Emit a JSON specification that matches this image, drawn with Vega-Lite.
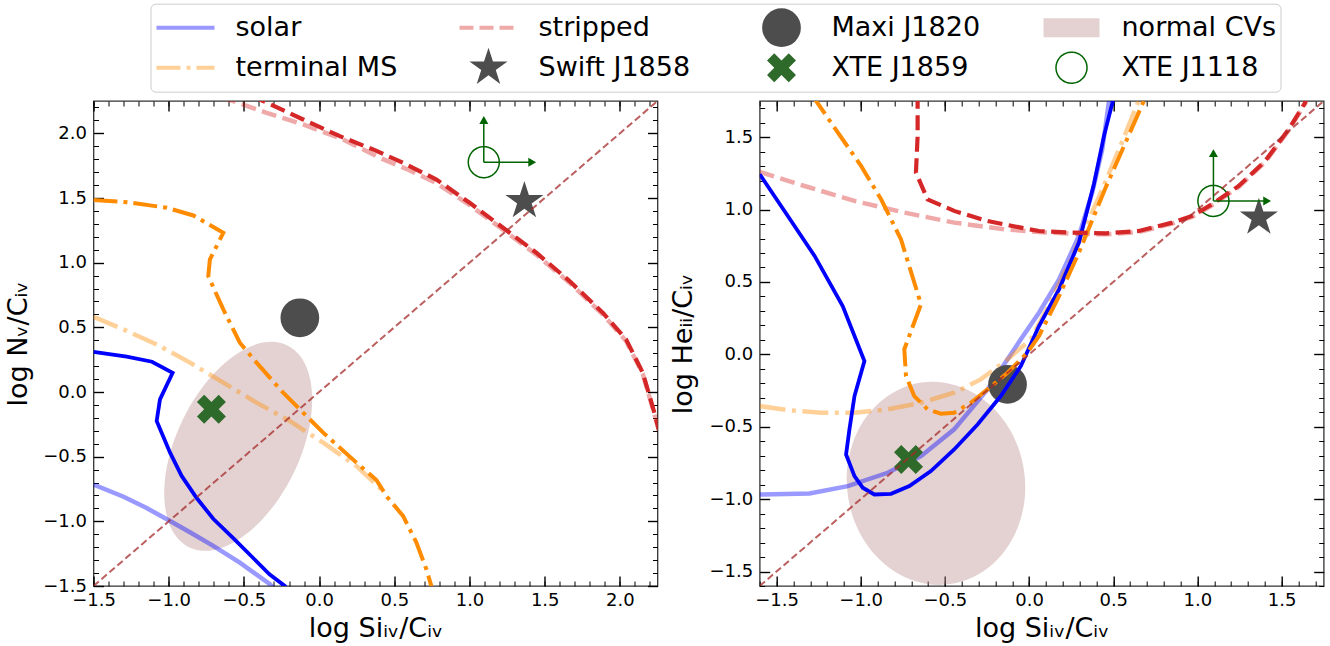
{
"$schema": "https://vega.github.io/schema/vega-lite/v6.json",
"background": "white",
"padding": {"left": 3.5, "top": 3, "right": 5, "bottom": 5},
"spacing": 9.2,
"config": {
  "font": "DejaVu Sans",
  "view": {"stroke": "#333333", "strokeWidth": 1.3},
  "axis": {"domain": false, "grid": false, "tickColor": "black", "labelColor": "black", "titleColor": "black", "labelFont": "DejaVu Sans", "titleFont": "DejaVu Sans", "labelFontSize": 18, "titleFontSize": 27, "titleFontWeight": "normal", "labelFlush": false, "labelOverlap": false, "labelBound": false, "tickWidth": 1.4}
},
"datasets": {
  "Llines": [
    {"c":"solarD","x":-1.5,"y":0.31},{"c":"solarD","x":-1.279,"y":0.273},{"c":"solarD","x":-1.111,"y":0.234},{"c":"solarD","x":-0.974,"y":0.149},{"c":"solarD","x":-1.058,"y":-0.057},{"c":"solarD","x":-1.08,"y":-0.224},{"c":"solarD","x":-0.991,"y":-0.469},{"c":"solarD","x":-0.914,"y":-0.649},{"c":"solarD","x":-0.814,"y":-0.82},{"c":"solarD","x":-0.704,"y":-0.98},{"c":"solarD","x":-0.571,"y":-1.13},{"c":"solarD","x":-0.45,"y":-1.27},{"c":"solarD","x":-0.33,"y":-1.41},{"c":"solarD","x":-0.228,"y":-1.5},{"c":"solarD","x":-0.19,"y":-1.55},
    {"c":"solarL","x":-1.5,"y":-0.715},{"c":"solarL","x":-1.3,"y":-0.81},{"c":"solarL","x":-1.15,"y":-0.895},{"c":"solarL","x":-0.991,"y":-0.997},{"c":"solarL","x":-0.85,"y":-1.09},{"c":"solarL","x":-0.704,"y":-1.19},{"c":"solarL","x":-0.527,"y":-1.32},{"c":"solarL","x":-0.327,"y":-1.486},{"c":"solarL","x":-0.3,"y":-1.52},
    {"c":"tmsD","x":-1.5,"y":1.484},{"c":"tmsD","x":-1.279,"y":1.468},{"c":"tmsD","x":-1.013,"y":1.425},{"c":"tmsD","x":-0.836,"y":1.365},{"c":"tmsD","x":-0.637,"y":1.231},{"c":"tmsD","x":-0.726,"y":1.025},{"c":"tmsD","x":-0.737,"y":0.896},{"c":"tmsD","x":-0.637,"y":0.639},{"c":"tmsD","x":-0.527,"y":0.381},{"c":"tmsD","x":-0.416,"y":0.227},{"c":"tmsD","x":-0.239,"y":-0.005},{"c":"tmsD","x":-0.106,"y":-0.16},{"c":"tmsD","x":0.027,"y":-0.314},{"c":"tmsD","x":0.248,"y":-0.546},{"c":"tmsD","x":0.381,"y":-0.68},{"c":"tmsD","x":0.447,"y":-0.804},{"c":"tmsD","x":0.558,"y":-0.958},{"c":"tmsD","x":0.647,"y":-1.164},{"c":"tmsD","x":0.713,"y":-1.37},{"c":"tmsD","x":0.746,"y":-1.499},{"c":"tmsD","x":0.76,"y":-1.55},
    {"c":"tmsL","x":-1.5,"y":0.582},{"c":"tmsL","x":-1.301,"y":0.484},{"c":"tmsL","x":-1.08,"y":0.368},{"c":"tmsL","x":-0.858,"y":0.227},{"c":"tmsL","x":-0.637,"y":0.072},{"c":"tmsL","x":-0.416,"y":-0.082},{"c":"tmsL","x":-0.195,"y":-0.224},{"c":"tmsL","x":0.027,"y":-0.392},{"c":"tmsL","x":0.248,"y":-0.572},{"c":"tmsL","x":0.41,"y":-0.75},
    {"c":"strD","x":-0.45,"y":2.29},{"c":"strD","x":-0.371,"y":2.249},{"c":"strD","x":-0.106,"y":2.107},{"c":"strD","x":0.138,"y":1.978},{"c":"strD","x":0.37,"y":1.87},{"c":"strD","x":0.558,"y":1.772},{"c":"strD","x":0.78,"y":1.643},{"c":"strD","x":1.001,"y":1.463},{"c":"strD","x":1.223,"y":1.27},{"c":"strD","x":1.444,"y":1.077},{"c":"strD","x":1.665,"y":0.858},{"c":"strD","x":1.886,"y":0.613},{"c":"strD","x":2.041,"y":0.407},{"c":"strD","x":2.152,"y":0.149},{"c":"strD","x":2.229,"y":-0.16},{"c":"strD","x":2.26,"y":-0.3},
    {"c":"strL","x":-0.65,"y":2.28},{"c":"strL","x":-0.571,"y":2.249},{"c":"strL","x":-0.349,"y":2.159},{"c":"strL","x":-0.106,"y":2.069},{"c":"strL","x":0.159,"y":1.953},{"c":"strL","x":0.403,"y":1.811},{"c":"strL","x":0.6,"y":1.715},{"c":"strL","x":0.78,"y":1.615},{"c":"strL","x":1.001,"y":1.445},{"c":"strL","x":1.223,"y":1.255},{"c":"strL","x":1.444,"y":1.062},{"c":"strL","x":1.665,"y":0.845},{"c":"strL","x":1.886,"y":0.6},{"c":"strL","x":2.041,"y":0.395},{"c":"strL","x":2.152,"y":0.14},{"c":"strL","x":2.229,"y":-0.17},{"c":"strL","x":2.26,"y":-0.3},
    {"c":"diag","x":-1.5,"y":-1.5},{"c":"diag","x":2.25,"y":2.25}
  ],
  "Rlines": [
    {"c":"solarD","x":-1.6,"y":1.244},{"c":"solarD","x":-1.433,"y":0.956},{"c":"solarD","x":-1.274,"y":0.68},{"c":"solarD","x":-1.107,"y":0.334},{"c":"solarD","x":-0.978,"y":-0.046},{"c":"solarD","x":-1.037,"y":-0.288},{"c":"solarD","x":-1.067,"y":-0.518},{"c":"solarD","x":-1.087,"y":-0.691},{"c":"solarD","x":-1.037,"y":-0.841},{"c":"solarD","x":-0.988,"y":-0.921},{"c":"solarD","x":-0.919,"y":-0.968},{"c":"solarD","x":-0.82,"y":-0.963},{"c":"solarD","x":-0.711,"y":-0.91},{"c":"solarD","x":-0.583,"y":-0.806},{"c":"solarD","x":-0.445,"y":-0.657},{"c":"solarD","x":-0.306,"y":-0.484},{"c":"solarD","x":-0.168,"y":-0.288},{"c":"solarD","x":-0.049,"y":-0.081},{"c":"solarD","x":0.059,"y":0.196},{"c":"solarD","x":0.178,"y":0.449},{"c":"solarD","x":0.296,"y":0.772},{"c":"solarD","x":0.385,"y":1.175},{"c":"solarD","x":0.445,"y":1.509},{"c":"solarD","x":0.498,"y":1.751},{"c":"solarD","x":0.51,"y":1.8},
    {"c":"solarL","x":-1.6,"y":-0.968},{"c":"solarL","x":-1.304,"y":-0.961},{"c":"solarL","x":-1.077,"y":-0.91},{"c":"solarL","x":-0.84,"y":-0.818},{"c":"solarL","x":-0.642,"y":-0.703},{"c":"solarL","x":-0.445,"y":-0.518},{"c":"solarL","x":-0.247,"y":-0.242},{"c":"solarL","x":-0.049,"y":0.104},{"c":"solarL","x":0.059,"y":0.288},{"c":"solarL","x":0.178,"y":0.518},{"c":"solarL","x":0.296,"y":0.818},{"c":"solarL","x":0.375,"y":1.117},{"c":"solarL","x":0.435,"y":1.417},{"c":"solarL","x":0.475,"y":1.75},{"c":"solarL","x":0.48,"y":1.8},
    {"c":"tmsD","x":-1.29,"y":1.8},{"c":"tmsD","x":-1.265,"y":1.751},{"c":"tmsD","x":-1.156,"y":1.566},{"c":"tmsD","x":-0.998,"y":1.302},{"c":"tmsD","x":-0.879,"y":1.071},{"c":"tmsD","x":-0.761,"y":0.795},{"c":"tmsD","x":-0.642,"y":0.346},{"c":"tmsD","x":-0.741,"y":0.035},{"c":"tmsD","x":-0.731,"y":-0.15},{"c":"tmsD","x":-0.682,"y":-0.288},{"c":"tmsD","x":-0.603,"y":-0.38},{"c":"tmsD","x":-0.524,"y":-0.41},{"c":"tmsD","x":-0.445,"y":-0.403},{"c":"tmsD","x":-0.346,"y":-0.334},{"c":"tmsD","x":-0.247,"y":-0.242},{"c":"tmsD","x":-0.128,"y":-0.127},{"c":"tmsD","x":-0.01,"y":0.012},{"c":"tmsD","x":0.059,"y":0.127},{"c":"tmsD","x":0.178,"y":0.403},{"c":"tmsD","x":0.296,"y":0.703},{"c":"tmsD","x":0.455,"y":1.152},{"c":"tmsD","x":0.573,"y":1.463},{"c":"tmsD","x":0.682,"y":1.751},{"c":"tmsD","x":0.7,"y":1.8},
    {"c":"tmsL","x":-1.6,"y":-0.357},{"c":"tmsL","x":-1.433,"y":-0.385},{"c":"tmsL","x":-1.235,"y":-0.403},{"c":"tmsL","x":-1.037,"y":-0.403},{"c":"tmsL","x":-0.84,"y":-0.38},{"c":"tmsL","x":-0.642,"y":-0.334},{"c":"tmsL","x":-0.445,"y":-0.265},{"c":"tmsL","x":-0.287,"y":-0.173},{"c":"tmsL","x":-0.128,"y":-0.035},{"c":"tmsL","x":0.01,"y":0.104},{"c":"tmsL","x":0.1,"y":0.3},{"c":"tmsL","x":0.25,"y":0.66},{"c":"tmsL","x":0.42,"y":1.1},{"c":"tmsL","x":0.55,"y":1.46},{"c":"tmsL","x":0.65,"y":1.75},{"c":"tmsL","x":0.67,"y":1.8},
    {"c":"strD","x":-0.66,"y":1.8},{"c":"strD","x":-0.662,"y":1.751},{"c":"strD","x":-0.662,"y":1.509},{"c":"strD","x":-0.672,"y":1.255},{"c":"strD","x":-0.603,"y":1.071},{"c":"strD","x":-0.445,"y":0.991},{"c":"strD","x":-0.247,"y":0.921},{"c":"strD","x":-0.049,"y":0.875},{"c":"strD","x":0.059,"y":0.852},{"c":"strD","x":0.257,"y":0.841},{"c":"strD","x":0.455,"y":0.836},{"c":"strD","x":0.652,"y":0.852},{"c":"strD","x":0.85,"y":0.91},{"c":"strD","x":0.968,"y":0.956},{"c":"strD","x":1.087,"y":1.037},{"c":"strD","x":1.245,"y":1.163},{"c":"strD","x":1.403,"y":1.336},{"c":"strD","x":1.542,"y":1.555},{"c":"strD","x":1.64,"y":1.739},{"c":"strD","x":1.65,"y":1.8},
    {"c":"strL","x":-1.6,"y":1.26},{"c":"strL","x":-1.334,"y":1.163},{"c":"strL","x":-1.037,"y":1.06},{"c":"strL","x":-0.741,"y":0.979},{"c":"strL","x":-0.445,"y":0.91},{"c":"strL","x":-0.148,"y":0.864},{"c":"strL","x":0.059,"y":0.845},{"c":"strL","x":0.257,"y":0.834},{"c":"strL","x":0.455,"y":0.829},{"c":"strL","x":0.652,"y":0.845},{"c":"strL","x":0.85,"y":0.903},{"c":"strL","x":0.968,"y":0.949},{"c":"strL","x":1.087,"y":1.03},{"c":"strL","x":1.245,"y":1.156},{"c":"strL","x":1.403,"y":1.329},{"c":"strL","x":1.542,"y":1.548},{"c":"strL","x":1.64,"y":1.732},{"c":"strL","x":1.65,"y":1.8},
    {"c":"diag","x":-1.6,"y":-1.6},{"c":"diag","x":1.75,"y":1.75}
  ],
  "Lell": [
    {"x":-0.211,"y":0.36},{"x":-0.127,"y":0.28},{"x":-0.071,"y":0.151},{"x":-0.047,"y":-0.016},{"x":-0.056,"y":-0.211},{"x":-0.098,"y":-0.42},{"x":-0.17,"y":-0.629},{"x":-0.267,"y":-0.823},{"x":-0.383,"y":-0.991},{"x":-0.509,"y":-1.119},{"x":-0.637,"y":-1.2},{"x":-0.758,"y":-1.228},{"x":-0.865,"y":-1.2},{"x":-0.949,"y":-1.12},{"x":-1.005,"y":-0.991},{"x":-1.029,"y":-0.824},{"x":-1.02,"y":-0.63},{"x":-0.978,"y":-0.421},{"x":-0.906,"y":-0.212},{"x":-0.809,"y":-0.017},{"x":-0.693,"y":0.151},{"x":-0.567,"y":0.279},{"x":-0.439,"y":0.36},{"x":-0.318,"y":0.388}
  ],
  "Rell": [
    {"x":-0.639,"y":-0.195},{"x":-0.501,"y":-0.196},{"x":-0.366,"y":-0.245},{"x":-0.244,"y":-0.337},{"x":-0.143,"y":-0.467},{"x":-0.07,"y":-0.626},{"x":-0.03,"y":-0.803},{"x":-0.025,"y":-0.986},{"x":-0.057,"y":-1.163},{"x":-0.122,"y":-1.321},{"x":-0.217,"y":-1.45},{"x":-0.334,"y":-1.54},{"x":-0.467,"y":-1.587},{"x":-0.605,"y":-1.586},{"x":-0.74,"y":-1.538},{"x":-0.862,"y":-1.445},{"x":-0.963,"y":-1.315},{"x":-1.036,"y":-1.156},{"x":-1.076,"y":-0.979},{"x":-1.081,"y":-0.796},{"x":-1.049,"y":-0.619},{"x":-0.984,"y":-0.461},{"x":-0.889,"y":-0.333},{"x":-0.772,"y":-0.242}
  ],
  "Lpts": [
    {"name":"Maxi J1820","x":-0.128,"y":0.574},{"name":"XTE J1859","x":-0.716,"y":-0.134},{"name":"Swift J1858","x":1.365,"y":1.476},{"name":"XTE J1118","x":1.095,"y":1.777}
  ],
  "Rpts": [
    {"name":"Maxi J1820","x":-0.128,"y":-0.207},{"name":"XTE J1859","x":-0.716,"y":-0.726},{"name":"Swift J1858","x":1.365,"y":0.944},{"name":"XTE J1118","x":1.095,"y":1.06}
  ],
  "Larrows": [
    {"x":1.095,"y":1.777,"x2":1.095,"y2":2.105},{"x":1.095,"y":1.777,"x2":1.42,"y2":1.777}
  ],
  "Rarrows": [
    {"x":1.095,"y":1.06,"x2":1.095,"y2":1.392},{"x":1.095,"y":1.06,"x2":1.416,"y2":1.06}
  ],
  "Lheads": [
    {"d":"up","x":1.095,"y":2.103},{"d":"right","x":1.417,"y":1.777}
  ],
  "Rheads": [
    {"d":"up","x":1.095,"y":1.39},{"d":"right","x":1.414,"y":1.06}
  ]
},
"hconcat": [
{
  "width": 564, "height": 485,
  "resolve": {"axis": {"x": "independent", "y": "independent"}},
  "encoding": {
    "x": {"field": "x", "type": "quantitative", "scale": {"domain": [-1.5, 2.25], "nice": false, "zero": false}, "axis": null},
    "y": {"field": "y", "type": "quantitative", "scale": {"domain": [-1.5, 2.25], "nice": false, "zero": false}, "axis": null}
  },
  "layer": [
    {"data": {"name": "Lell"}, "mark": {"type": "line", "fill": "#bc8f8f", "fillOpacity": 0.4, "strokeWidth": 0, "interpolate": "cardinal-closed"},
     "encoding": {"order": {"value": null},
       "x": {"field": "x", "type": "quantitative", "scale": {"domain": [-1.5, 2.25], "nice": false, "zero": false}, "axis": {"orient": "bottom", "values": [-1.5,-1,-0.5,0,0.5,1,1.5,2], "format": ".1f", "title": "log Siᵢᵥ/Cᵢᵥ", "tickSize": -10, "labelPadding": 15, "titlePadding": 6}},
       "y": {"field": "y", "type": "quantitative", "scale": {"domain": [-1.5, 2.25], "nice": false, "zero": false}, "axis": {"orient": "left", "values": [-1.5,-1,-0.5,0,0.5,1,1.5,2], "format": ".1f", "title": "log Nᵥ/Cᵢᵥ", "tickSize": -10, "labelPadding": 17, "titlePadding": 10}}}},
    {"data": {"name": "Llines"}, "transform": [{"filter": "datum.c == 'solarL'"}], "mark": {"type": "line", "stroke": "blue", "strokeOpacity": 0.4, "strokeWidth": 4.5, "clip": true},
     "encoding": {"order": {"value": null},
       "x": {"field": "x", "type": "quantitative", "scale": {"domain": [-1.5, 2.25], "nice": false, "zero": false}, "axis": {"orient": "bottom", "values": [-1.5,-1.4,-1.3,-1.2,-1.1,-1,-0.9,-0.8,-0.7,-0.6,-0.5,-0.4,-0.3,-0.2,-0.1,0,0.1,0.2,0.3,0.4,0.5,0.6,0.7,0.8,0.9,1,1.1,1.2,1.3,1.4,1.5,1.6,1.7,1.8,1.9,2,2.1,2.2], "labels": false, "title": null, "tickSize": -5, "tickWidth": 1}},
       "y": {"field": "y", "type": "quantitative", "scale": {"domain": [-1.5, 2.25], "nice": false, "zero": false}, "axis": {"orient": "left", "values": [-1.5,-1.4,-1.3,-1.2,-1.1,-1,-0.9,-0.8,-0.7,-0.6,-0.5,-0.4,-0.3,-0.2,-0.1,0,0.1,0.2,0.3,0.4,0.5,0.6,0.7,0.8,0.9,1,1.1,1.2,1.3,1.4,1.5,1.6,1.7,1.8,1.9,2,2.1,2.2], "labels": false, "title": null, "tickSize": -5, "tickWidth": 1}}}},
    {"data": {"name": "Llines"}, "transform": [{"filter": "datum.c == 'tmsL'"}], "mark": {"type": "line", "stroke": "#ff8c00", "strokeOpacity": 0.4, "strokeWidth": 4.5, "strokeDash": [26, 6.5, 4, 6.5], "clip": true},
     "encoding": {"order": {"value": null},
       "x": {"field": "x", "type": "quantitative", "scale": {"domain": [-1.5, 2.25], "nice": false, "zero": false}, "axis": {"orient": "top", "values": [-1.5,-1,-0.5,0,0.5,1,1.5,2], "labels": false, "title": null, "tickSize": -10}},
       "y": {"field": "y", "type": "quantitative", "scale": {"domain": [-1.5, 2.25], "nice": false, "zero": false}, "axis": {"orient": "right", "values": [-1.5,-1,-0.5,0,0.5,1,1.5,2], "labels": false, "title": null, "tickSize": -10}}}},
    {"data": {"name": "Llines"}, "transform": [{"filter": "datum.c == 'strL'"}], "mark": {"type": "line", "stroke": "#d62728", "strokeOpacity": 0.4, "strokeWidth": 4.5, "strokeDash": [15, 6.5], "clip": true},
     "encoding": {"order": {"value": null},
       "x": {"field": "x", "type": "quantitative", "scale": {"domain": [-1.5, 2.25], "nice": false, "zero": false}, "axis": {"orient": "top", "values": [-1.5,-1.4,-1.3,-1.2,-1.1,-1,-0.9,-0.8,-0.7,-0.6,-0.5,-0.4,-0.3,-0.2,-0.1,0,0.1,0.2,0.3,0.4,0.5,0.6,0.7,0.8,0.9,1,1.1,1.2,1.3,1.4,1.5,1.6,1.7,1.8,1.9,2,2.1,2.2], "labels": false, "title": null, "tickSize": -5, "tickWidth": 1}},
       "y": {"field": "y", "type": "quantitative", "scale": {"domain": [-1.5, 2.25], "nice": false, "zero": false}, "axis": {"orient": "right", "values": [-1.5,-1.4,-1.3,-1.2,-1.1,-1,-0.9,-0.8,-0.7,-0.6,-0.5,-0.4,-0.3,-0.2,-0.1,0,0.1,0.2,0.3,0.4,0.5,0.6,0.7,0.8,0.9,1,1.1,1.2,1.3,1.4,1.5,1.6,1.7,1.8,1.9,2,2.1,2.2], "labels": false, "title": null, "tickSize": -5, "tickWidth": 1}}}},
    {"data": {"name": "Lpts"}, "mark": {"type": "point", "opacity": 1},
     "encoding": {
       "fill": {"field": "name", "type": "nominal", "scale": {"domain": ["solar","terminal MS","stripped","Swift J1858","Maxi J1820","XTE J1859","normal CVs","XTE J1118"], "range": ["transparent","transparent","transparent","#4d4d4d","#4d4d4d","#2e6b2a","#e4d2d2","transparent"]},
         "legend": {"title": null, "orient": "none", "legendX": 57, "legendY": -97.3, "columns": 4, "labelFontSize": 27, "labelFont": "DejaVu Sans", "labelColor": "black", "labelOffset": 19, "symbolOffset": 0, "clipHeight": 40, "rowPadding": 0, "columnPadding": 60, "padding": 4, "fillColor": "white", "strokeColor": "#cccccc", "cornerRadius": 5, "labelLimit": 400}},
       "stroke": {"field": "name", "type": "nominal", "scale": {"domain": ["solar","terminal MS","stripped","Swift J1858","Maxi J1820","XTE J1859","normal CVs","XTE J1118"], "range": ["#9999ff","#ffd199","#efa9a9","#4d4d4d","#4d4d4d","#2e6b2a","#e4d2d2","#006400"]}, "legend": {"title": null}},
       "shape": {"field": "name", "type": "nominal", "scale": {"domain": ["solar","terminal MS","stripped","Swift J1858","Maxi J1820","XTE J1859","normal CVs","XTE J1118"], "range": ["stroke","stroke","stroke","M0,-1L0.2245,-0.309L0.9511,-0.309L0.3633,0.118L0.5878,0.809L0,0.382L-0.5878,0.809L-0.3633,0.118L-0.9511,-0.309L-0.2245,-0.309Z","circle","M0,-0.5L0.5,-1L1,-0.5L0.5,0L1,0.5L0.5,1L0,0.5L-0.5,1L-1,0.5L-0.5,0L-1,-0.5L-0.5,-1Z","M-1,-0.34L1,-0.34L1,0.34L-1,0.34Z","circle"]}, "legend": {"title": null}},
       "size": {"field": "name", "type": "nominal", "scale": {"type": "ordinal", "domain": ["solar","terminal MS","stripped","Swift J1858","Maxi J1820","XTE J1859","normal CVs","XTE J1118"], "range": [3364,3364,3364,1600,1500,841,3136,961]}, "legend": {"title": null}},
       "strokeWidth": {"field": "name", "type": "nominal", "scale": {"type": "ordinal", "domain": ["solar","terminal MS","stripped","Swift J1858","Maxi J1820","XTE J1859","normal CVs","XTE J1118"], "range": [4,4,4,0,0,0,0,1.5]}, "legend": {"title": null}},
       "strokeDash": {"field": "name", "type": "nominal", "scale": {"domain": ["solar","terminal MS","stripped","Swift J1858","Maxi J1820","XTE J1859","normal CVs","XTE J1118"], "range": [[1,0],[24,6,4,6],[14,6],[1,0],[1,0],[1,0],[1,0],[1,0]]}, "legend": {"title": null}}
     }},
    {"data": {"name": "Llines"}, "transform": [{"filter": "datum.c == 'solarD'"}], "mark": {"type": "line", "stroke": "blue", "strokeWidth": 3.8, "clip": true}, "encoding": {"order": {"value": null}}},
    {"data": {"name": "Llines"}, "transform": [{"filter": "datum.c == 'tmsD'"}], "mark": {"type": "line", "stroke": "#ff8c00", "strokeWidth": 4, "strokeDash": [24, 6, 4, 6], "clip": true}, "encoding": {"order": {"value": null}}},
    {"data": {"name": "Llines"}, "transform": [{"filter": "datum.c == 'strD'"}], "mark": {"type": "line", "stroke": "#d62728", "strokeWidth": 4.2, "strokeDash": [15, 6.5], "clip": true}, "encoding": {"order": {"value": null}}},
    {"data": {"name": "Llines"}, "transform": [{"filter": "datum.c == 'diag'"}], "mark": {"type": "line", "stroke": "#a52a2a", "strokeOpacity": 0.75, "strokeWidth": 2, "strokeDash": [7, 3.5], "clip": true}, "encoding": {"order": {"value": null}}},
    {"data": {"name": "Larrows"}, "mark": {"type": "rule", "stroke": "darkgreen", "strokeWidth": 1.5}, "encoding": {"x2": {"field": "x2"}, "y2": {"field": "y2"}}},
    {"data": {"name": "Lheads"}, "transform": [{"filter": "datum.d == 'up'"}], "mark": {"type": "point", "shape": "triangle-up", "filled": true, "fill": "darkgreen", "strokeWidth": 0, "size": 81, "opacity": 1}, "encoding": {}},
    {"data": {"name": "Lheads"}, "transform": [{"filter": "datum.d == 'right'"}], "mark": {"type": "point", "shape": "triangle-right", "filled": true, "fill": "darkgreen", "strokeWidth": 0, "size": 81, "opacity": 1}, "encoding": {}}
  ]
},
{
  "width": 564, "height": 485,
  "resolve": {"axis": {"x": "independent", "y": "independent"}},
  "encoding": {
    "x": {"field": "x", "type": "quantitative", "scale": {"domain": [-1.6, 1.75], "nice": false, "zero": false}, "axis": null},
    "y": {"field": "y", "type": "quantitative", "scale": {"domain": [-1.6, 1.75], "nice": false, "zero": false}, "axis": null}
  },
  "layer": [
    {"data": {"name": "Rell"}, "mark": {"type": "line", "fill": "#bc8f8f", "fillOpacity": 0.4, "strokeWidth": 0, "interpolate": "cardinal-closed"},
     "encoding": {"order": {"value": null},
       "x": {"field": "x", "type": "quantitative", "scale": {"domain": [-1.6, 1.75], "nice": false, "zero": false}, "axis": {"orient": "bottom", "values": [-1.5,-1,-0.5,0,0.5,1,1.5], "format": ".1f", "title": "log Siᵢᵥ/Cᵢᵥ", "tickSize": -10, "labelPadding": 15, "titlePadding": 6}},
       "y": {"field": "y", "type": "quantitative", "scale": {"domain": [-1.6, 1.75], "nice": false, "zero": false}, "axis": {"orient": "left", "values": [-1.5,-1,-0.5,0,0.5,1,1.5], "format": ".1f", "title": "log Heᵢᵢ/Cᵢᵥ", "tickSize": -10, "labelPadding": 17, "titlePadding": 11}}}},
    {"data": {"name": "Rlines"}, "transform": [{"filter": "datum.c == 'solarL'"}], "mark": {"type": "line", "stroke": "blue", "strokeOpacity": 0.4, "strokeWidth": 4.5, "clip": true},
     "encoding": {"order": {"value": null},
       "x": {"field": "x", "type": "quantitative", "scale": {"domain": [-1.6, 1.75], "nice": false, "zero": false}, "axis": {"orient": "bottom", "values": [-1.6,-1.5,-1.4,-1.3,-1.2,-1.1,-1,-0.9,-0.8,-0.7,-0.6,-0.5,-0.4,-0.3,-0.2,-0.1,0,0.1,0.2,0.3,0.4,0.5,0.6,0.7,0.8,0.9,1,1.1,1.2,1.3,1.4,1.5,1.6,1.7], "labels": false, "title": null, "tickSize": -5, "tickWidth": 1}},
       "y": {"field": "y", "type": "quantitative", "scale": {"domain": [-1.6, 1.75], "nice": false, "zero": false}, "axis": {"orient": "left", "values": [-1.6,-1.5,-1.4,-1.3,-1.2,-1.1,-1,-0.9,-0.8,-0.7,-0.6,-0.5,-0.4,-0.3,-0.2,-0.1,0,0.1,0.2,0.3,0.4,0.5,0.6,0.7,0.8,0.9,1,1.1,1.2,1.3,1.4,1.5,1.6,1.7], "labels": false, "title": null, "tickSize": -5, "tickWidth": 1}}}},
    {"data": {"name": "Rlines"}, "transform": [{"filter": "datum.c == 'tmsL'"}], "mark": {"type": "line", "stroke": "#ff8c00", "strokeOpacity": 0.4, "strokeWidth": 4.5, "strokeDash": [26, 6.5, 4, 6.5], "clip": true},
     "encoding": {"order": {"value": null},
       "x": {"field": "x", "type": "quantitative", "scale": {"domain": [-1.6, 1.75], "nice": false, "zero": false}, "axis": {"orient": "top", "values": [-1.5,-1,-0.5,0,0.5,1,1.5], "labels": false, "title": null, "tickSize": -10}},
       "y": {"field": "y", "type": "quantitative", "scale": {"domain": [-1.6, 1.75], "nice": false, "zero": false}, "axis": {"orient": "right", "values": [-1.5,-1,-0.5,0,0.5,1,1.5], "labels": false, "title": null, "tickSize": -10}}}},
    {"data": {"name": "Rlines"}, "transform": [{"filter": "datum.c == 'strL'"}], "mark": {"type": "line", "stroke": "#d62728", "strokeOpacity": 0.4, "strokeWidth": 4.5, "strokeDash": [15, 6.5], "clip": true},
     "encoding": {"order": {"value": null},
       "x": {"field": "x", "type": "quantitative", "scale": {"domain": [-1.6, 1.75], "nice": false, "zero": false}, "axis": {"orient": "top", "values": [-1.6,-1.5,-1.4,-1.3,-1.2,-1.1,-1,-0.9,-0.8,-0.7,-0.6,-0.5,-0.4,-0.3,-0.2,-0.1,0,0.1,0.2,0.3,0.4,0.5,0.6,0.7,0.8,0.9,1,1.1,1.2,1.3,1.4,1.5,1.6,1.7], "labels": false, "title": null, "tickSize": -5, "tickWidth": 1}},
       "y": {"field": "y", "type": "quantitative", "scale": {"domain": [-1.6, 1.75], "nice": false, "zero": false}, "axis": {"orient": "right", "values": [-1.6,-1.5,-1.4,-1.3,-1.2,-1.1,-1,-0.9,-0.8,-0.7,-0.6,-0.5,-0.4,-0.3,-0.2,-0.1,0,0.1,0.2,0.3,0.4,0.5,0.6,0.7,0.8,0.9,1,1.1,1.2,1.3,1.4,1.5,1.6,1.7], "labels": false, "title": null, "tickSize": -5, "tickWidth": 1}}}},
    {"data": {"name": "Rpts"}, "mark": {"type": "point", "opacity": 1},
     "encoding": {
       "fill": {"field": "name", "type": "nominal", "scale": {"domain": ["solar","terminal MS","stripped","Swift J1858","Maxi J1820","XTE J1859","normal CVs","XTE J1118"], "range": ["transparent","transparent","transparent","#4d4d4d","#4d4d4d","#2e6b2a","#e4d2d2","transparent"]},
         "legend": {"title": null, "orient": "none", "legendX": 57, "legendY": -97.3, "columns": 4, "labelFontSize": 27, "labelFont": "DejaVu Sans", "labelColor": "black", "labelOffset": 19, "symbolOffset": 0, "clipHeight": 40, "rowPadding": 0, "columnPadding": 60, "padding": 4, "fillColor": "white", "strokeColor": "#cccccc", "cornerRadius": 5, "labelLimit": 400}},
       "stroke": {"field": "name", "type": "nominal", "scale": {"domain": ["solar","terminal MS","stripped","Swift J1858","Maxi J1820","XTE J1859","normal CVs","XTE J1118"], "range": ["#9999ff","#ffd199","#efa9a9","#4d4d4d","#4d4d4d","#2e6b2a","#e4d2d2","#006400"]}, "legend": {"title": null}},
       "shape": {"field": "name", "type": "nominal", "scale": {"domain": ["solar","terminal MS","stripped","Swift J1858","Maxi J1820","XTE J1859","normal CVs","XTE J1118"], "range": ["stroke","stroke","stroke","M0,-1L0.2245,-0.309L0.9511,-0.309L0.3633,0.118L0.5878,0.809L0,0.382L-0.5878,0.809L-0.3633,0.118L-0.9511,-0.309L-0.2245,-0.309Z","circle","M0,-0.5L0.5,-1L1,-0.5L0.5,0L1,0.5L0.5,1L0,0.5L-0.5,1L-1,0.5L-0.5,0L-1,-0.5L-0.5,-1Z","M-1,-0.34L1,-0.34L1,0.34L-1,0.34Z","circle"]}, "legend": {"title": null}},
       "size": {"field": "name", "type": "nominal", "scale": {"type": "ordinal", "domain": ["solar","terminal MS","stripped","Swift J1858","Maxi J1820","XTE J1859","normal CVs","XTE J1118"], "range": [3364,3364,3364,1600,1500,841,3136,961]}, "legend": {"title": null}},
       "strokeWidth": {"field": "name", "type": "nominal", "scale": {"type": "ordinal", "domain": ["solar","terminal MS","stripped","Swift J1858","Maxi J1820","XTE J1859","normal CVs","XTE J1118"], "range": [4,4,4,0,0,0,0,1.5]}, "legend": {"title": null}},
       "strokeDash": {"field": "name", "type": "nominal", "scale": {"domain": ["solar","terminal MS","stripped","Swift J1858","Maxi J1820","XTE J1859","normal CVs","XTE J1118"], "range": [[1,0],[24,6,4,6],[14,6],[1,0],[1,0],[1,0],[1,0],[1,0]]}, "legend": {"title": null}}
     }},
    {"data": {"name": "Rlines"}, "transform": [{"filter": "datum.c == 'solarD'"}], "mark": {"type": "line", "stroke": "blue", "strokeWidth": 3.8, "clip": true}, "encoding": {"order": {"value": null}}},
    {"data": {"name": "Rlines"}, "transform": [{"filter": "datum.c == 'tmsD'"}], "mark": {"type": "line", "stroke": "#ff8c00", "strokeWidth": 4, "strokeDash": [24, 6, 4, 6], "clip": true}, "encoding": {"order": {"value": null}}},
    {"data": {"name": "Rlines"}, "transform": [{"filter": "datum.c == 'strD'"}], "mark": {"type": "line", "stroke": "#d62728", "strokeWidth": 4.2, "strokeDash": [15, 6.5], "clip": true}, "encoding": {"order": {"value": null}}},
    {"data": {"name": "Rlines"}, "transform": [{"filter": "datum.c == 'diag'"}], "mark": {"type": "line", "stroke": "#a52a2a", "strokeOpacity": 0.75, "strokeWidth": 2, "strokeDash": [7, 3.5], "clip": true}, "encoding": {"order": {"value": null}}},
    {"data": {"name": "Rarrows"}, "mark": {"type": "rule", "stroke": "darkgreen", "strokeWidth": 1.5}, "encoding": {"x2": {"field": "x2"}, "y2": {"field": "y2"}}},
    {"data": {"name": "Rheads"}, "transform": [{"filter": "datum.d == 'up'"}], "mark": {"type": "point", "shape": "triangle-up", "filled": true, "fill": "darkgreen", "strokeWidth": 0, "size": 81, "opacity": 1}, "encoding": {}},
    {"data": {"name": "Rheads"}, "transform": [{"filter": "datum.d == 'right'"}], "mark": {"type": "point", "shape": "triangle-right", "filled": true, "fill": "darkgreen", "strokeWidth": 0, "size": 81, "opacity": 1}, "encoding": {}}
  ]
}
]
}
